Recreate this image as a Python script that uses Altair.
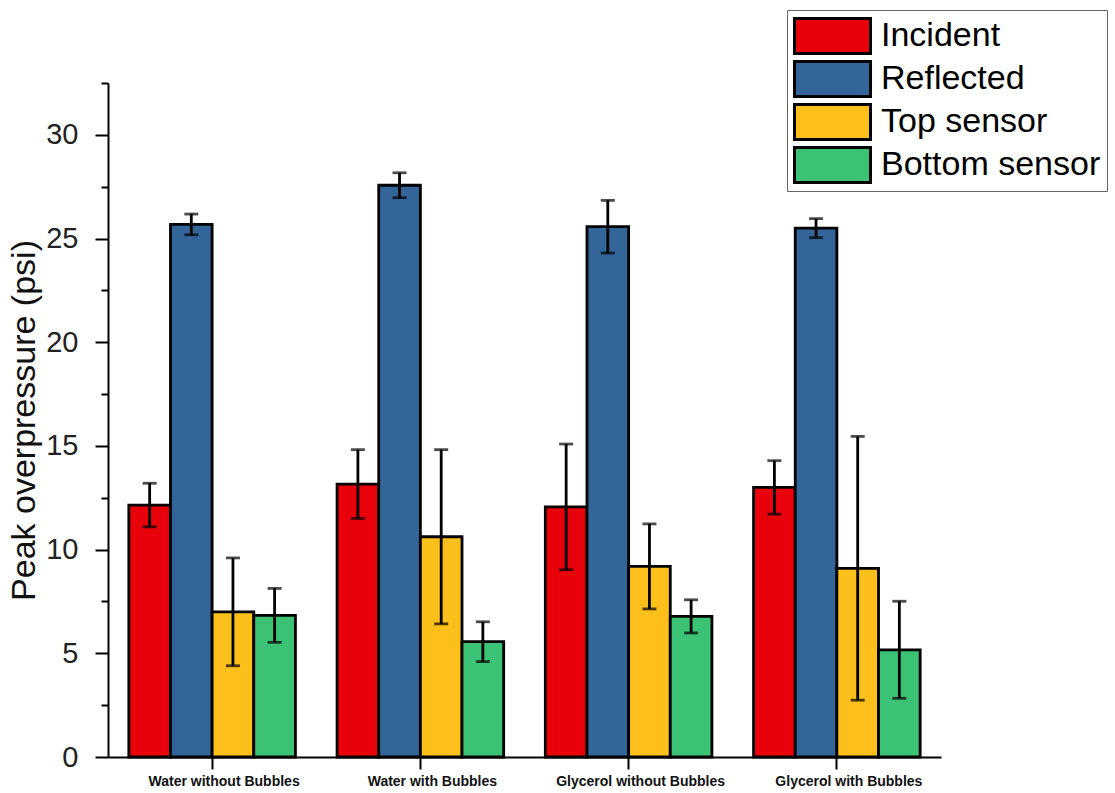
import altair as alt
import pandas as pd

# Groups along the x axis and the four measured series
groups = ["Water without Bubbles", "Water with Bubbles",
          "Glycerol without Bubbles", "Glycerol with Bubbles"]
series = ["Incident", "Reflected", "Top sensor", "Bottom sensor"]
colors = ["#E8000B", "#336598", "#FDC01A", "#3CC274"]

# Mean peak overpressure (psi) per series, one value per group
incident = [12.15, 13.16, 12.06, 13.00]
reflected = [25.68, 27.57, 25.57, 25.50]
top_sensor = [7.00, 10.62, 9.19, 9.10]
bottom_sensor = [6.83, 5.56, 6.78, 5.17]

# Error (+/-) per series, one value per group
incident_err = [1.05, 1.66, 3.03, 1.29]
reflected_err = [0.50, 0.60, 1.27, 0.46]
top_sensor_err = [2.60, 4.20, 2.05, 6.36]
bottom_sensor_err = [1.30, 0.96, 0.80, 2.34]

y_ticks = [0, 5, 10, 15, 20, 25, 30]
y_minor = [2.5, 7.5, 12.5, 17.5, 22.5, 27.5, 32.5]

means = [incident, reflected, top_sensor, bottom_sensor]
errors = [incident_err, reflected_err, top_sensor_err, bottom_sensor_err]

rows = []
for s, vals, errs in zip(series, means, errors):
    for g, v, e in zip(groups, vals, errs):
        rows.append({"group": g, "series": s, "value": v,
                     "lo": v - e, "hi": v + e})
df = pd.DataFrame(rows)

FONT = "Liberation Sans"

x_enc = alt.X("group:N", sort=groups,
              scale=alt.Scale(paddingInner=0.2, paddingOuter=0.1),
              axis=alt.Axis(title=None, labelAngle=0, labelFont=FONT,
                            labelFontSize=14, labelFontWeight="bold",
                            labelColor="#111", labelPadding=5, labelOffset=12,
                            domainColor="black", domainWidth=2,
                            tickColor="black", tickWidth=2, tickSize=12))
xo_enc = alt.XOffset("series:N", sort=series,
                     scale=alt.Scale(domain=series, paddingInner=0, paddingOuter=0))
y_scale = alt.Scale(domain=[0, 32.5], nice=False, zero=True)

base = alt.Chart(df)

bars = base.mark_bar(stroke="black", strokeWidth=2.8).encode(
    x=x_enc,
    xOffset=xo_enc,
    y=alt.Y("value:Q", scale=y_scale,
            axis=alt.Axis(title="Peak overpressure (psi)", values=y_ticks,
                          orient="left", grid=False,
                          titleFont=FONT, titleFontSize=34,
                          titleFontWeight="normal", titleColor="#111",
                          titlePadding=4,
                          labelFont=FONT, labelFontSize=29, labelColor="#222",
                          labelPadding=17,
                          domainColor="black", domainWidth=2,
                          tickColor="black", tickWidth=2, tickSize=13)),
    fill=alt.Fill("series:N", sort=series,
                  scale=alt.Scale(domain=series, range=colors),
                  legend=alt.Legend(
                      title=None, orient="none", legendX=679, legendY=-73,
                      symbolType="M-1,-0.92L3,-0.92L3,0.92L-1,0.92Z",
                      symbolSize=1444,
                      symbolStrokeColor="black", symbolStrokeWidth=3,
                      labelFont=FONT, labelFontSize=34, labelColor="black",
                      labelLimit=400, labelOffset=47, rowPadding=3,
                      clipHeight=40,
                      padding=6, strokeColor="#666", fillColor="white")),
)

err_rules = base.mark_rule(color="black", strokeWidth=2.8).encode(
    x=alt.X("group:N", sort=groups),
    xOffset=xo_enc,
    y=alt.Y("lo:Q", scale=y_scale, axis=None),
    y2="hi:Q",
)

caps_hi = base.mark_tick(color="black", thickness=2.8, size=14,
                         orient="horizontal").encode(
    x=alt.X("group:N", sort=groups),
    xOffset=xo_enc,
    y=alt.Y("hi:Q", scale=y_scale, axis=None),
)

# Low caps also carry the minor tick axis of the y scale
caps_lo = base.mark_tick(color="black", thickness=2.8, size=14,
                         orient="horizontal").encode(
    x=alt.X("group:N", sort=groups),
    xOffset=xo_enc,
    y=alt.Y("lo:Q", scale=y_scale,
            axis=alt.Axis(title=None, values=y_minor, labels=False,
                          orient="left", grid=False, domain=False,
                          tickColor="black", tickWidth=2, tickSize=7)),
)

chart = alt.layer(bars, err_rules, caps_hi, caps_lo).resolve_axis(
    y="independent"
).properties(
    width=833,
    height=674,
    autosize="none",
    padding={"left": 108, "top": 83, "right": 174, "bottom": 36},
    background="white",
).configure_view(stroke=None)

chart.save("out.html", embed_options={"renderer": "svg", "actions": False})
